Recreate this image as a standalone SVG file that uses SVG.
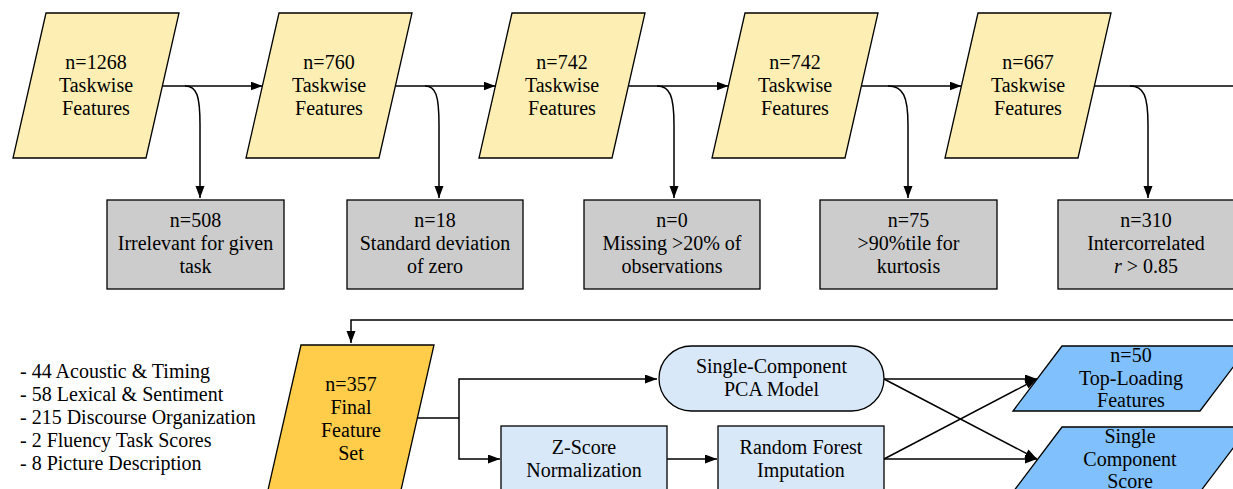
<svg xmlns="http://www.w3.org/2000/svg" width="1233" height="489" viewBox="0 0 1233 489">
<defs>
<marker id="ah" markerUnits="userSpaceOnUse" markerWidth="12" markerHeight="10" refX="12" refY="4.5" orient="auto">
<path d="M0,0 L12,4.5 L0,9 z" fill="#000"/>
</marker>
<style>
text{font-family:'Liberation Serif','Times New Roman','DejaVu Serif',serif;font-size:20px;fill:#000;text-anchor:middle}
.yl{fill:#fdefb3;stroke:#000;stroke-width:1.3}
.gr{fill:#cccccc;stroke:#000;stroke-width:1.3}
.fn{fill:#ffcd4a;stroke:#000;stroke-width:1.3}
.lb{fill:#d9e8f8;stroke:#000;stroke-width:1.3}
.bp{fill:#80c0fc;stroke:#000;stroke-width:1.3}
.c{fill:none;stroke:#000;stroke-width:1.5}
.a{marker-end:url(#ah)}
.lst{text-anchor:start}
</style>
</defs>
<rect width="1233" height="489" fill="#fff"/>

<g id="connectors">
<path class="c a" d="M162.5,86 L262.5,86"/>
<path class="c a" d="M395.5,86 L495.5,86"/>
<path class="c a" d="M628.5,86 L728.5,86"/>
<path class="c a" d="M861.5,86 L961.5,86"/>
<path class="c" d="M1094.5,86 L1233,86"/>
<path class="c a" d="M185,86 C197,86 200,96 200,125 L200,198"/>
<path class="c a" d="M425,86 C436,86 439,96 439,125 L439,198"/>
<path class="c a" d="M657,86 C670,86 674,96 674,125 L674,198"/>
<path class="c a" d="M888,86 C903,86 908,96 908,125 L908,198"/>
<path class="c a" d="M1130,86 C1144,86 1148,96 1148,125 L1148,198"/>
<path class="c a" d="M1233,320 L351,320 L351,343"/>
<path class="c" d="M416,418 L459,418"/>
<path class="c a" d="M459,418 L459,379 L657,379"/>
<path class="c a" d="M459,418 L459,459 L500,459"/>
<path class="c a" d="M667,459 L717,459"/>
<path class="c a" d="M884,379 L1037,379"/>
<path class="c a" d="M884,379 L1037,459"/>
<path class="c a" d="M884,459 L1037,379"/>
<path class="c a" d="M884,459 L1037,459"/>
</g>

<g id="p1"><polygon class="yl" points="46,13 179,13 146,158 13,158"/>
<text x="96" y="69">n=1268</text><text x="96" y="92">Taskwise</text><text x="96" y="115">Features</text></g>
<g id="p2"><polygon class="yl" points="279,13 412,13 379,158 246,158"/>
<text x="329" y="69">n=760</text><text x="329" y="92">Taskwise</text><text x="329" y="115">Features</text></g>
<g id="p3"><polygon class="yl" points="512,13 645,13 612,158 479,158"/>
<text x="562" y="69">n=742</text><text x="562" y="92">Taskwise</text><text x="562" y="115">Features</text></g>
<g id="p4"><polygon class="yl" points="745,13 878,13 845,158 712,158"/>
<text x="795" y="69">n=742</text><text x="795" y="92">Taskwise</text><text x="795" y="115">Features</text></g>
<g id="p5"><polygon class="yl" points="978,13 1111,13 1078,158 945,158"/>
<text x="1028" y="69">n=667</text><text x="1028" y="92">Taskwise</text><text x="1028" y="115">Features</text></g>

<g id="r1"><rect class="gr" x="107" y="200" width="177" height="89"/>
<text x="195.5" y="227">n=508</text><text x="195.5" y="250">Irrelevant for given</text><text x="195.5" y="273">task</text></g>
<g id="r2"><rect class="gr" x="347" y="200" width="176" height="89"/>
<text x="435" y="227">n=18</text><text x="435" y="250">Standard deviation</text><text x="435" y="273">of zero</text></g>
<g id="r3"><rect class="gr" x="584" y="200" width="176" height="89"/>
<text x="672" y="227">n=0</text><text x="672" y="250">Missing &gt;20% of</text><text x="672" y="273">observations</text></g>
<g id="r4"><rect class="gr" x="820" y="200" width="177" height="89"/>
<text x="908.5" y="227">n=75</text><text x="908.5" y="250">&gt;90%tile for</text><text x="908.5" y="273">kurtosis</text></g>
<g id="r5"><rect class="gr" x="1058" y="200" width="177" height="89"/>
<text x="1146" y="227">n=310</text><text x="1146" y="250">Intercorrelated</text><text x="1146" y="273"><tspan font-style="italic">r</tspan> &gt; 0.85</text></g>

<g id="list">
<text class="lst" x="20" y="378">- 44 Acoustic &amp; Timing</text>
<text class="lst" x="20" y="401">- 58 Lexical &amp; Sentiment</text>
<text class="lst" x="20" y="424">- 215 Discourse Organization</text>
<text class="lst" x="20" y="447">- 2 Fluency Task Scores</text>
<text class="lst" x="20" y="470">- 8 Picture Description</text>
</g>

<g id="final"><polygon class="fn" points="301,345 434,345 401,490 268,490"/>
<text x="351" y="391">n=357</text><text x="351" y="414">Final</text><text x="351" y="437">Feature</text><text x="351" y="460">Set</text></g>

<g id="pca"><rect class="lb" x="659" y="346" width="225" height="65" rx="32.5" ry="32.5"/>
<text x="771.5" y="373">Single-Component</text><text x="771.5" y="396">PCA Model</text></g>
<g id="zscore"><rect class="lb" x="501" y="426" width="166" height="80"/>
<text x="584" y="454">Z-Score</text><text x="584" y="477">Normalization</text></g>
<g id="rf"><rect class="lb" x="718" y="426" width="166" height="80"/>
<text x="801" y="454">Random Forest</text><text x="801" y="477">Imputation</text></g>

<g id="toploading"><polygon class="bp" points="1062,346 1249,346 1200,411 1013,411"/>
<text x="1131" y="362">n=50</text><text x="1131" y="385">Top-Loading</text><text x="1131" y="407">Features</text></g>
<g id="score"><polygon class="bp" points="1062,427 1249,427 1200,492 1013,492"/>
<text x="1130" y="443">Single</text><text x="1130" y="466">Component</text><text x="1130" y="488">Score</text></g>
</svg>
